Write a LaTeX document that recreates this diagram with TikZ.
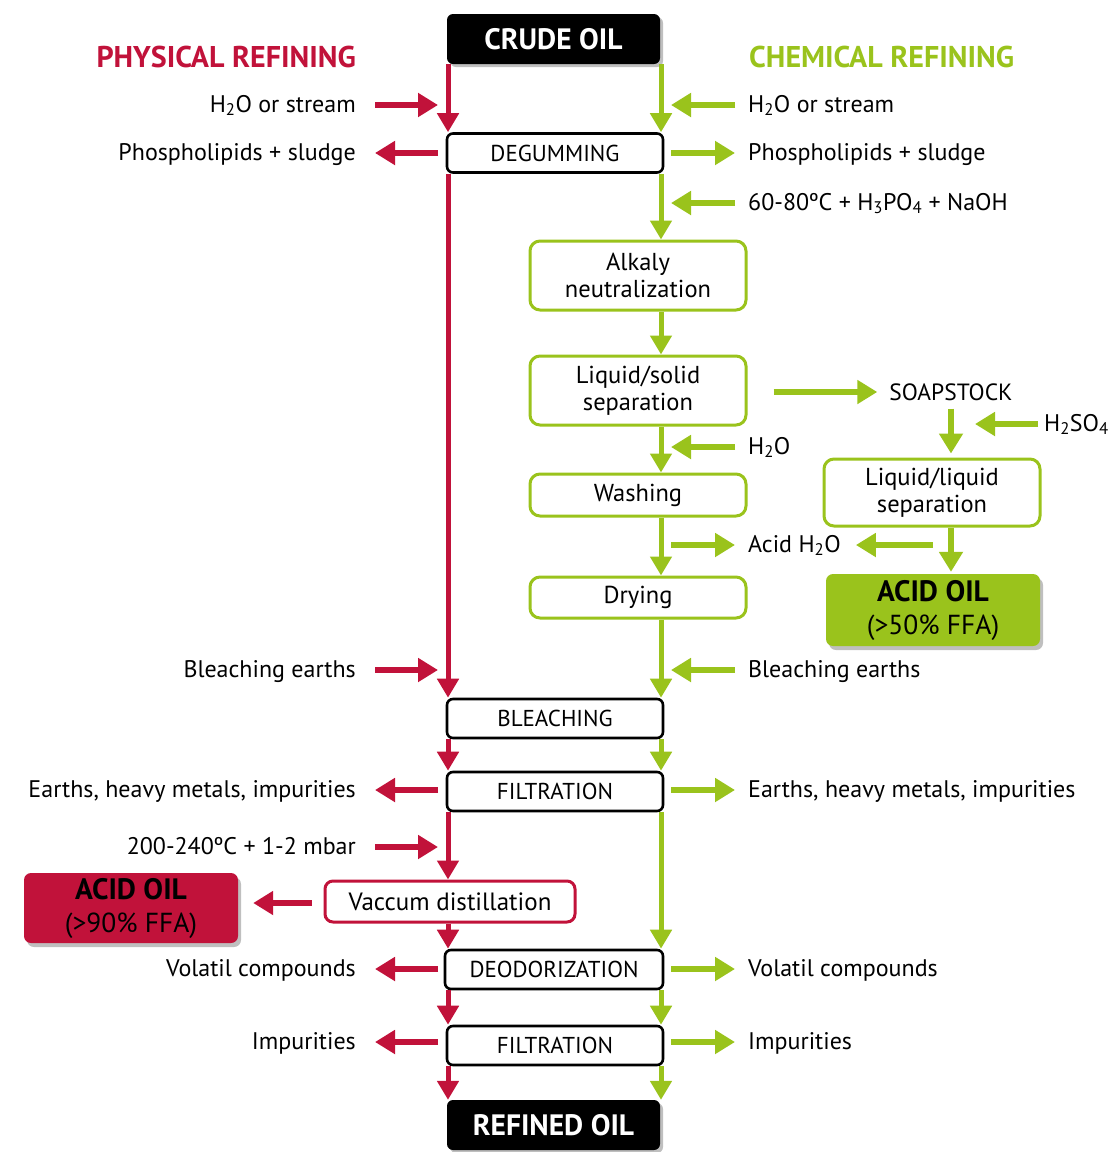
\documentclass[tikz,border=0pt]{standalone}
\usepackage{fontspec}
\setmainfont{PT Sans}
\usetikzlibrary{arrows.meta,shadows}
\definecolor{rd}{RGB}{193,18,58}
\definecolor{gn}{RGB}{154,195,28}
\begin{document}
\begin{tikzpicture}[x=1pt,y=-1pt,
  lbl/.style={inner sep=0pt, font=\fontsize{24}{28}\selectfont, text height=18pt, text depth=4pt},
  ttl/.style={inner sep=0pt, font=\bfseries\fontsize{30}{34}\selectfont},
  procbox/.style={draw=black, line width=2.6pt, rounded corners=6pt, fill=white, minimum width=216pt, minimum height=39pt, inner sep=0pt, font=\fontsize{23}{26}\selectfont},
  gbox/.style={draw=gn, line width=3pt, rounded corners=10pt, fill=white, minimum width=216pt, inner sep=0pt, align=center, font=\fontsize{24.5}{27}\selectfont},
  oilbox/.style={fill=black, rounded corners=6pt, text=white, minimum width=213pt, minimum height=50pt, inner sep=0pt, font=\bfseries\fontsize{29.5}{32}\selectfont, drop shadow={shadow xshift=3pt, shadow yshift=-3pt, fill=black!25, opacity=1}},
  acidbox/.style={rounded corners=7pt, minimum width=214pt, inner sep=0pt, align=center, font=\fontsize{27.5}{33}\selectfont, drop shadow={shadow xshift=3pt, shadow yshift=-4pt, fill=black!25, opacity=1}},
  rarr/.style={draw=rd, line width=6.5pt, -{Triangle[length=20pt,width=23pt]}},
  garr/.style={draw=gn, line width=6.5pt, -{Triangle[length=20pt,width=23pt]}},
  rvl/.style={draw=rd, line width=5pt, -{Triangle[length=19pt,width=21pt]}},
  gvl/.style={draw=gn, line width=5pt, -{Triangle[length=19pt,width=21pt]}}
]
\useasboundingbox (0,0) rectangle (1110,1152);

% line positions
\coordinate (RX) at (448,0);
\coordinate (GX) at (661,0);
\coordinate (RL) at (438,0);
\coordinate (GR) at (671,0);

% titles
\node[ttl, text=rd, anchor=east] (phys) at (356,57) {PHYSICAL REFINING};
\node[ttl, text=gn, anchor=west] (chem) at (749,57) {CHEMICAL REFINING};

% main boxes
\node[oilbox] (crude) at (553.5,39) {CRUDE OIL};
\node[procbox] (degum) at (555,153) {DEGUMMING};
\node[gbox, minimum height=69pt] (alk) at (638,275.5) {Alkaly\\neutralization};
\node[gbox, minimum height=69pt] (ls) at (638,390.5) {Liquid/solid\\separation};
\node[gbox, minimum height=42pt] (wash) at (638,495) {Washing};
\node[gbox, minimum height=41pt] (dry) at (638,597.5) {Drying};
\node[gbox, minimum height=67pt] (ll) at (932,492.5) {Liquid/liquid\\separation};
\node[acidbox, fill=gn, text=black, minimum height=72pt] (acid50) at (933,610) {\textbf{\fontsize{29.5}{33}\selectfont ACID OIL}\\(>50\% FFA)};
\node[procbox] (bleach) at (555,718.5) {BLEACHING};
\node[procbox] (filt1) at (555,791.5) {FILTRATION};
\node[draw=rd, line width=3pt, rounded corners=8pt, fill=white, minimum width=250pt, minimum height=41pt, inner sep=0pt, font=\fontsize{25}{28}\selectfont] (vac) at (450,901.5) {Vaccum distillation};
\node[acidbox, fill=rd, text=black, minimum height=70pt] (acid90) at (131,908) {\textbf{\fontsize{29.5}{33}\selectfont ACID OIL}\\(>90\% FFA)};
\node[procbox, minimum width=218pt] (deod) at (554,969.5) {DEODORIZATION};
\node[procbox] (filt2) at (555,1045.5) {FILTRATION};
\node[oilbox] (refined) at (553.5,1125) {REFINED OIL};

% side texts
\node[inner sep=0pt, font=\fontsize{23.5}{26}\selectfont] (soap) at (951,392) {SOAPSTOCK};
\node[lbl, anchor=west] (h2so4) at (1044,424) {H\textsubscript{2}SO\textsubscript{4}};
\coordinate (h2tip) at (975,424);
\coordinate (acidbr) at (933,545);

\node[lbl, anchor=east] (lH2O) at (356,105) {H\textsubscript{2}O or stream};
\node[lbl, anchor=east] (lPhos) at (356,153) {Phospholipids + sludge};
\node[lbl, anchor=east] (lBleach) at (356,670) {Bleaching earths};
\node[lbl, anchor=east] (lEarths) at (356,790) {Earths, heavy metals, impurities};
\node[lbl, anchor=east] (lTemp) at (356,847) {200-240ºC + 1-2 mbar};
\node[lbl, anchor=east] (lVol) at (356,969) {Volatil compounds};
\node[lbl, anchor=east] (lImp) at (356,1042) {Impurities};

\node[lbl, anchor=west] (rH2O) at (748,105) {H\textsubscript{2}O or stream};
\node[lbl, anchor=west] (rPhos) at (748,153) {Phospholipids + sludge};
\node[lbl, anchor=west] (rTemp) at (748,203) {60-80ºC + H\textsubscript{3}PO\textsubscript{4} + NaOH};
\node[lbl, anchor=west] (rH2Ob) at (748,447) {H\textsubscript{2}O};
\node[lbl, anchor=west] (rAcid) at (748,545) {Acid H\textsubscript{2}O};
\node[lbl, anchor=west] (rBleach) at (748,670) {Bleaching earths};
\node[lbl, anchor=west] (rEarths) at (748,790) {Earths, heavy metals, impurities};
\node[lbl, anchor=west] (rVol) at (748,969) {Volatil compounds};
\node[lbl, anchor=west] (rImp) at (748,1042) {Impurities};

% red vertical flow
\draw[rvl] (crude.south -| RX) -- (degum.north -| RX);
\draw[rvl] (degum.south -| RX) -- (bleach.north -| RX);
\draw[rvl] (bleach.south -| RX) -- (filt1.north -| RX);
\draw[rvl] (filt1.south -| RX) -- (vac.north -| RX);
\draw[rvl] (vac.south -| RX) -- (deod.north -| RX);
\draw[rvl] (deod.south -| RX) -- (filt2.north -| RX);
\draw[rvl] (filt2.south -| RX) -- (refined.north -| RX);

% green vertical flow
\draw[gvl] (crude.south -| GX) -- (degum.north -| GX);
\draw[gvl] (degum.south -| GX) -- (alk.north -| GX);
\draw[gvl] (alk.south -| GX) -- (ls.north -| GX);
\draw[gvl] (ls.south -| GX) -- (wash.north -| GX);
\draw[gvl] (wash.south -| GX) -- (dry.north -| GX);
\draw[gvl] (dry.south -| GX) -- (bleach.north -| GX);
\draw[gvl] (bleach.south -| GX) -- (filt1.north -| GX);
\draw[gvl] (filt1.south -| GX) -- (deod.north -| GX);
\draw[gvl] (deod.south -| GX) -- (filt2.north -| GX);
\draw[gvl] (filt2.south -| GX) -- (refined.north -| GX);

% left horizontal arrows
\draw[rarr] ([xshift=19pt]lH2O.east) -- (lH2O.east -| RL);
\draw[rarr] (lPhos.east -| RL) -- ([xshift=19pt]lPhos.east);
\draw[rarr] ([xshift=19pt]lBleach.east) -- (lBleach.east -| RL);
\draw[rarr] (lEarths.east -| RL) -- ([xshift=19pt]lEarths.east);
\draw[rarr] ([xshift=19pt]lTemp.east) -- (lTemp.east -| RL);
\draw[rarr] (lVol.east -| RL) -- ([xshift=19pt]lVol.east);
\draw[rarr] (lImp.east -| RL) -- ([xshift=19pt]lImp.east);
\draw[rarr] ([xshift=-12pt,yshift=-1.5pt]vac.west) -- ([xshift=15pt,yshift=-1.5pt]acid90.east |- vac.west);

% right horizontal arrows
\draw[garr] ([xshift=-13pt]rH2O.west) -- (rH2O.west -| GR);
\draw[garr] (rPhos.west -| GR) -- ([xshift=-13pt]rPhos.west);
\draw[garr] ([xshift=-13pt]rTemp.west) -- (rTemp.west -| GR);
\draw[garr] ([xshift=-13pt]rH2Ob.west) -- (rH2Ob.west -| GR);
\draw[garr] (rAcid.west -| GR) -- ([xshift=-13pt]rAcid.west);
\draw[garr] ([xshift=-13pt]rBleach.west) -- (rBleach.west -| GR);
\draw[garr] (rEarths.west -| GR) -- ([xshift=-13pt]rEarths.west);
\draw[garr] (rVol.west -| GR) -- ([xshift=-13pt]rVol.west);
\draw[garr] (rImp.west -| GR) -- ([xshift=-13pt]rImp.west);

% soapstock branch
\draw[garr] ([xshift=26pt]ls.east |- soap.west) -- ([xshift=-12pt]soap.west);
\draw[garr] ([yshift=-8pt]soap.south) -- ([yshift=4pt]soap.south |- ll.north);
\draw[garr] ([xshift=-6pt]h2so4.west |- h2tip) -- (h2tip);
\draw[garr] (ll.south -| soap.south) -- ([yshift=2pt]soap.south |- acid50.north);
\draw[garr] (acidbr) -- ([xshift=15pt]rAcid.east);
\end{tikzpicture}
\end{document}
